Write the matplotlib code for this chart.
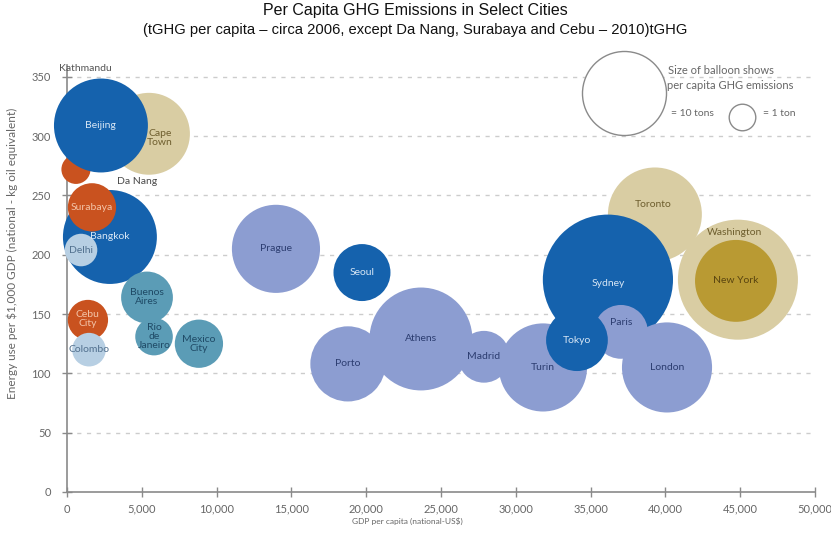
import matplotlib
matplotlib.use("Agg")
import matplotlib.pyplot as plt
from matplotlib.ticker import FuncFormatter

# ---------------- data ----------------
cities = ["Cape Town", "Da Nang", "Beijing", "Bangkok", "Surabaya", "Delhi",
          "Buenos Aires", "Rio de Janeiro", "Mexico City", "Cebu City", "Colombo",
          "Prague", "Seoul", "Porto", "Madrid", "Athens", "Turin",
          "Toronto", "Sydney", "Paris", "Tokyo", "London", "Washington", "New York"]
labels = ["Cape\nTown", "Da Nang", "Beijing", "Bangkok", "Surabaya", "Delhi",
          "Buenos\nAires", "Rio\nde\nJaneiro", "Mexico\nCity", "Cebu\nCity", "Colombo",
          "Prague", "Seoul", "Porto", "Madrid", "Athens", "Turin",
          "Toronto", "Sydney", "Paris", "Tokyo", "London", "Washington", "New York"]
gdp_per_capita = [5480, 600, 2270, 2870, 1670, 940,
                  5350, 5820, 8820, 1400, 1470,
                  13970, 19720, 18780, 27870, 23660, 31820,
                  39300, 36160, 37030, 34090, 40110, 44850, 44720]
energy_use = [302, 272, 309, 215, 240, 204,
              164, 131, 125, 145, 120,
              205, 185, 108, 114, 129, 105,
              234, 179, 135, 128, 105, 179, 178]
ghg_tons = [9.5, 1.2, 12.5, 12.5, 3.3, 1.5,
            3.8, 2.0, 3.3, 2.3, 1.6,
            11.0, 4.6, 8.0, 3.8, 15.0, 11.0,
            12.5, 24.0, 4.1, 5.4, 11.5, 20.4, 9.5]
groups = ["beige", "orange", "blue", "blue", "orange", "lightblue",
          "teal", "teal", "teal", "orange", "lightblue",
          "purple", "blue", "purple", "purple", "purple", "purple",
          "beige", "blue", "purple", "blue", "purple", "beige", "gold"]

y_ticks = [0, 50, 100, 150, 200, 250, 300, 350]
x_ticks = [0, 5000, 10000, 15000, 20000, 25000, 30000, 35000, 40000, 45000, 50000]
legend_tons = [10, 1]

# ---------------- style ----------------
fill = {"beige": "#d9cda3", "orange": "#c9521f", "blue": "#1562ad",
        "lightblue": "#b7cfe3", "teal": "#5b9cb6", "purple": "#8c9dd1",
        "gold": "#b99a33"}
txt = {"beige": "#6e5e2e", "orange": "#f3c4a8", "blue": "#d7e6f5",
       "lightblue": "#51708e", "teal": "#1f4a66", "purple": "#2c3d70",
       "gold": "#5a4510"}
label_offsets = {"Da Nang": (61, -12), "Cape Town": (11, -4), "Toronto": (-2, 10),
                 "Paris": (0, 9), "Washington": (-3, 47), "Cebu City": (0, 1),
                 "Sydney": (0, -4)}
label_colors = {"Da Nang": "#4a4a4a"}
SIZE_PER_TON = 366.0

plt.rcParams["font.family"] = ["Lato", "DejaVu Sans"]

fig = plt.figure(figsize=(8.31, 5.35), dpi=100)
ax = fig.add_axes([0.0806, 0.0804, 0.9001, 0.7981])

ax.set_xlim(0, 50000)
ax.set_ylim(0, 360)

for yv in y_ticks[1:]:
    ax.axhline(yv, color="#cccccc", lw=1.0, ls=(0, (3, 4)), zorder=0)

for i, c in enumerate(cities):
    ax.scatter(gdp_per_capita[i], energy_use[i], s=ghg_tons[i] * SIZE_PER_TON,
               color=fill[groups[i]], edgecolors="none", zorder=2 + i,
               clip_on=False)
    dx, dy = label_offsets.get(c, (0, 0))
    ax.annotate(labels[i], (gdp_per_capita[i], energy_use[i]), xytext=(dx, dy),
                textcoords="offset pixels", ha="center", va="center",
                fontsize=7.5, color=label_colors.get(c, txt[groups[i]]),
                zorder=40 + i, linespacing=1.0)

ax.annotate("Kathmandu", (1200, 357), ha="center", va="center", fontsize=7.5,
            color="#555555", annotation_clip=False)

# legend of balloon sizes
ax.scatter([0.745], [0.934], s=legend_tons[0] * SIZE_PER_TON, transform=ax.transAxes,
           facecolor="white", edgecolors="#8a8a8a", linewidths=1.0, zorder=60,
           clip_on=False)
ax.scatter([0.902], [0.878], s=legend_tons[1] * SIZE_PER_TON, transform=ax.transAxes,
           facecolor="white", edgecolors="#8a8a8a", linewidths=1.0, zorder=60,
           clip_on=False)
ax.text(0.803, 0.988, "Size of balloon shows", transform=ax.transAxes, fontsize=8,
        color="#666666", va="center", ha="left")
ax.text(0.802, 0.953, "per capita GHG emissions", transform=ax.transAxes, fontsize=8,
        color="#666666", va="center", ha="left")
ax.text(0.807, 0.886, "= 10 tons", transform=ax.transAxes, fontsize=7.5,
        color="#666666", va="center", ha="left")
ax.text(0.930, 0.886, "= 1 ton", transform=ax.transAxes, fontsize=7.5,
        color="#666666", va="center", ha="left")

# axes styling
for s in ["top", "right"]:
    ax.spines[s].set_visible(False)
for s in ["left", "bottom"]:
    ax.spines[s].set_color("#8a8a8a")
    ax.spines[s].set_linewidth(1.2)
ax.set_yticks(y_ticks)
ax.set_xticks(x_ticks)
ax.xaxis.set_major_formatter(FuncFormatter(lambda v, p: f"{int(v):,}"))
ax.tick_params(direction="inout", length=7, width=1, color="#8a8a8a",
               labelsize=8, labelcolor="#666666")
ax.tick_params(axis="y", pad=8)
ax.tick_params(axis="x", pad=5)
ax.set_xlabel("GDP per capita (national-US$)", fontsize=6, color="#666666",
              va="center")
ax.xaxis.set_label_coords(0.4545, -0.068)
ax.set_ylabel("Energy use per $1,000 GDP (national - kg oil equivalent)",
              fontsize=8.5, color="#666666")
ax.yaxis.set_label_coords(-0.066, 0.56)

fig.text(0.5, 0.981, "Per Capita GHG Emissions in Select Cities", ha="center",
         va="center", fontsize=11.5, family="Liberation Sans", color="#111111")
fig.text(0.5, 0.944,
         "(tGHG per capita \u2013 circa 2006, except Da Nang, Surabaya and Cebu \u2013 2010)tGHG",
         ha="center", va="center", fontsize=10.6, family="Liberation Sans", color="#111111")

fig.savefig("out.png", dpi=100)
